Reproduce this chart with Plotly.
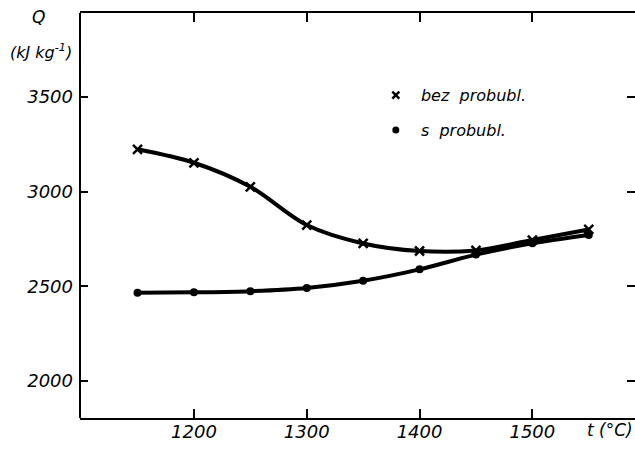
import plotly.graph_objects as go

# Temperature (deg C) and heat demand Q (kJ/kg)
temperature = [1150, 1200, 1250, 1300, 1350, 1400, 1450, 1500, 1550]
q_bez = [3224, 3153, 3026, 2824, 2727, 2687, 2690, 2745, 2801]
q_s = [2466, 2469, 2475, 2492, 2530, 2590, 2668, 2728, 2772]

x_ticks = [1200, 1300, 1400, 1500]
y_ticks = [2000, 2500, 3000, 3500]

FONT = "DejaVu Sans"
ink = "black"

fig = go.Figure()

# curves
fig.add_trace(go.Scatter(
    x=temperature, y=q_bez, mode="lines+markers",
    line=dict(color=ink, width=4, shape="spline", smoothing=0.9),
    marker=dict(symbol="x-thin", size=9, line=dict(color=ink, width=2.5)),
    showlegend=False,
))
fig.add_trace(go.Scatter(
    x=temperature, y=q_s, mode="lines+markers",
    line=dict(color=ink, width=4, shape="spline", smoothing=0.9),
    marker=dict(symbol="circle", size=8, color=ink),
    showlegend=False,
))

# legend keys (marker only)
fig.add_trace(go.Scatter(
    x=[None], y=[None], mode="markers", name="\u00a0bez  probubl.",
    marker=dict(symbol="x-thin", size=7, line=dict(color=ink, width=2.5)),
    legend="legend",
))
fig.add_trace(go.Scatter(
    x=[None], y=[None], mode="markers", name="\u00a0s  probubl.",
    marker=dict(symbol="circle", size=7, color=ink),
    legend="legend2",
))

legend_style = dict(
    font=dict(family=FONT, size=16, style="italic", color=ink),
    bgcolor="rgba(0,0,0,0)", xanchor="left", yanchor="middle",
    itemclick=False,
)

axis_font = dict(family=FONT, size=18, style="italic", color=ink)

fig.update_layout(
    width=635, height=451,
    margin=dict(l=80, r=0, t=13, b=33),
    paper_bgcolor="white", plot_bgcolor="white",
    xaxis=dict(
        range=[1099, 1591], tickvals=x_ticks, ticks="inside", ticklen=9,
        tickwidth=2, tickcolor=ink, showline=True, linecolor=ink, linewidth=2,
        mirror="ticks", showgrid=False, zeroline=False, tickfont=axis_font,
        ticklabelstandoff=-4,
    ),
    yaxis=dict(
        range=[1805, 3944], tickvals=y_ticks, ticks="inside", ticklen=8,
        tickwidth=2, tickcolor=ink, showline=False, mirror="ticks",
        showgrid=False, zeroline=False, tickfont=axis_font,
        ticklabelstandoff=6,
    ),
    legend=dict(x=0.533, y=0.797, **legend_style),
    legend2=dict(x=0.533, y=0.711, **legend_style),
    shapes=[dict(type="line", xref="paper", yref="paper", x0=0, x1=0,
                 y0=0, y1=1, line=dict(color=ink, width=2))],
    annotations=[
        dict(text="Q", xref="paper", yref="paper", x=-0.074, y=0.99,
             xanchor="center", yanchor="middle", showarrow=False,
             font=dict(family=FONT, size=17, style="italic", color=ink)),
        dict(text="(kJ kg<sup>-1</sup>)", xref="paper", yref="paper",
             x=-0.070, y=0.904, xanchor="center", yanchor="middle",
             showarrow=False,
             font=dict(family=FONT, size=16, style="italic", color=ink)),
        dict(text="t (°C)", xref="paper", yref="paper", x=1.0, y=-0.030,
             xanchor="right", yanchor="middle", showarrow=False,
             font=dict(family=FONT, size=17, style="italic", color=ink)),
    ],
)

fig.write_html("out.html")
